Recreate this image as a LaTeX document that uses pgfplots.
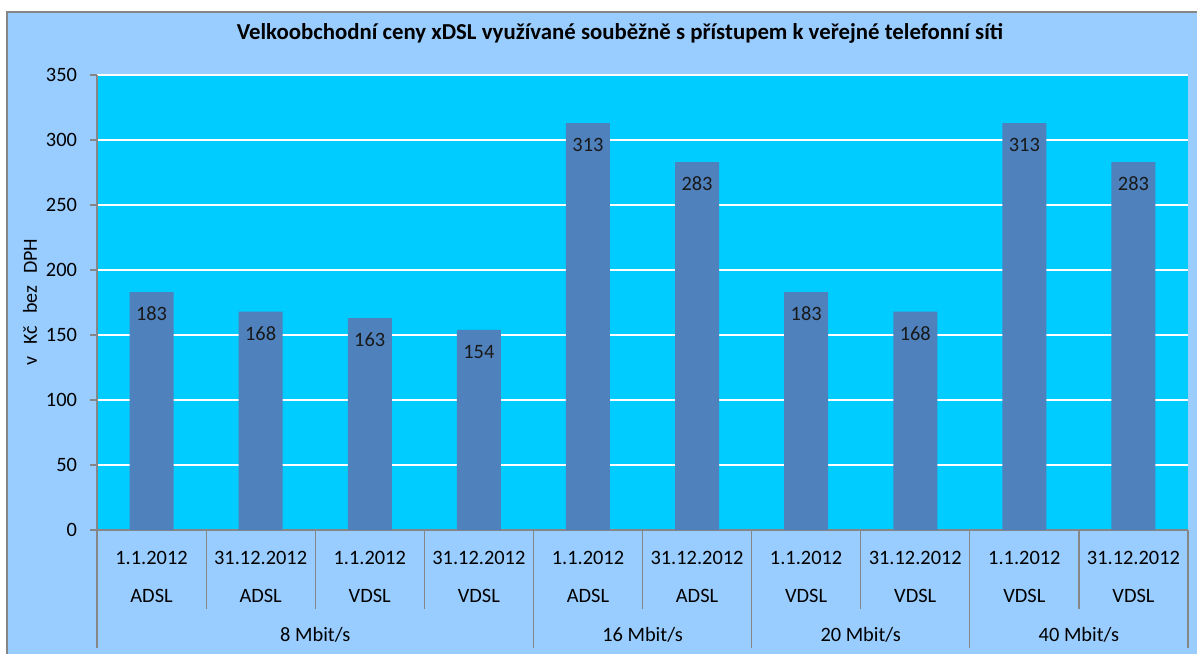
\documentclass[border=0pt]{standalone}
\usepackage{pgfplots}
\pgfplotsset{compat=1.18}
\usepackage{fontspec}
\setmainfont{Carlito}
\definecolor{outerbg}{HTML}{99CCFF}
\definecolor{plotbg}{HTML}{00CCFF}
\definecolor{barc}{HTML}{4F81BD}
\definecolor{axgray}{HTML}{868686}
\begin{document}
\begin{tikzpicture}
\useasboundingbox (0,0) rectangle (598.5pt,326.5pt);
\fill[white] (0,0) rectangle (598.5pt,326.5pt);
\filldraw[fill=outerbg, draw=axgray, line width=0.6pt] (3.5pt,-5pt) rectangle (610pt,320.5pt);
\node[font=\bfseries\fontsize{11.4}{13}\selectfont] at (310pt,310pt) {Velkoobchodní ceny xDSL využívané souběžně s přístupem k veřejné telefonní síti};
\node[rotate=90, font=\fontsize{10}{12}\selectfont] at (15pt,175.5pt) {v\hspace{6pt}Kč\hspace{6pt}bez\hspace{6pt}DPH};
\begin{axis}[
  at={(48.5pt,61.5pt)}, anchor=south west,
  scale only axis, width=545.5pt, height=227.5pt,
  xmin=-0.5, xmax=9.5, ymin=0, ymax=350,
  axis background/.style={fill=plotbg},
  axis x line*=bottom, axis y line*=left,
  axis line style={draw=axgray, line width=0.6pt},
  tick align=outside,
  ytick={0,50,...,350},
  ytick style={draw=axgray, line width=0.6pt},
  major tick length=3.5pt,
  ymajorgrids, major grid style={white, line width=0.6pt},
  xtick={0,...,9},
  xtick style={draw=none},
  xticklabels={{1.1.2012\\ADSL},{31.12.2012\\ADSL},{1.1.2012\\VDSL},{31.12.2012\\VDSL},{1.1.2012\\ADSL},{31.12.2012\\ADSL},{1.1.2012\\VDSL},{31.12.2012\\VDSL},{1.1.2012\\VDSL},{31.12.2012\\VDSL}},
  xticklabel style={anchor=north, align=center, font=\fontsize{10.2}{19}\selectfont, yshift=-3.5pt},
  yticklabel style={font=\fontsize{10.2}{12}\selectfont, xshift=-3pt},
  /pgf/number format/assume math mode=true,
  ybar, bar width=22pt,
  nodes near coords,
  every node near coord/.append style={font=\fontsize{10.2}{12}\selectfont, text=black!90, yshift=-18pt},
  clip=false,
]
\addplot[fill=barc, draw=none] coordinates {(0,183) (1,168) (2,163) (3,154) (4,313) (5,283) (6,183) (7,168) (8,313) (9,283)};
\draw[axgray, line width=0.6pt] (axis cs:-0.5,0) -- ([yshift=-59pt]axis cs:-0.5,0);
\draw[axgray, line width=0.6pt] (axis cs:3.5,0) -- ([yshift=-59pt]axis cs:3.5,0);
\draw[axgray, line width=0.6pt] (axis cs:5.5,0) -- ([yshift=-59pt]axis cs:5.5,0);
\draw[axgray, line width=0.6pt] (axis cs:7.5,0) -- ([yshift=-59pt]axis cs:7.5,0);
\draw[axgray, line width=0.6pt] (axis cs:9.5,0) -- ([yshift=-59pt]axis cs:9.5,0);
\draw[axgray, line width=0.6pt] (axis cs:0.5,0) -- ([yshift=-39.5pt]axis cs:0.5,0);
\draw[axgray, line width=0.6pt] (axis cs:1.5,0) -- ([yshift=-39.5pt]axis cs:1.5,0);
\draw[axgray, line width=0.6pt] (axis cs:2.5,0) -- ([yshift=-39.5pt]axis cs:2.5,0);
\draw[axgray, line width=0.6pt] (axis cs:4.5,0) -- ([yshift=-39.5pt]axis cs:4.5,0);
\draw[axgray, line width=0.6pt] (axis cs:6.5,0) -- ([yshift=-39.5pt]axis cs:6.5,0);
\draw[axgray, line width=0.6pt] (axis cs:8.5,0) -- ([yshift=-39.5pt]axis cs:8.5,0);
\node[font=\fontsize{10.2}{12}\selectfont] at ([yshift=-52.5pt]axis cs:1.5,0) {8 Mbit/s};
\node[font=\fontsize{10.2}{12}\selectfont] at ([yshift=-52.5pt]axis cs:4.5,0) {16 Mbit/s};
\node[font=\fontsize{10.2}{12}\selectfont] at ([yshift=-52.5pt]axis cs:6.5,0) {20 Mbit/s};
\node[font=\fontsize{10.2}{12}\selectfont] at ([yshift=-52.5pt]axis cs:8.5,0) {40 Mbit/s};
\end{axis}
\end{tikzpicture}
\end{document}
